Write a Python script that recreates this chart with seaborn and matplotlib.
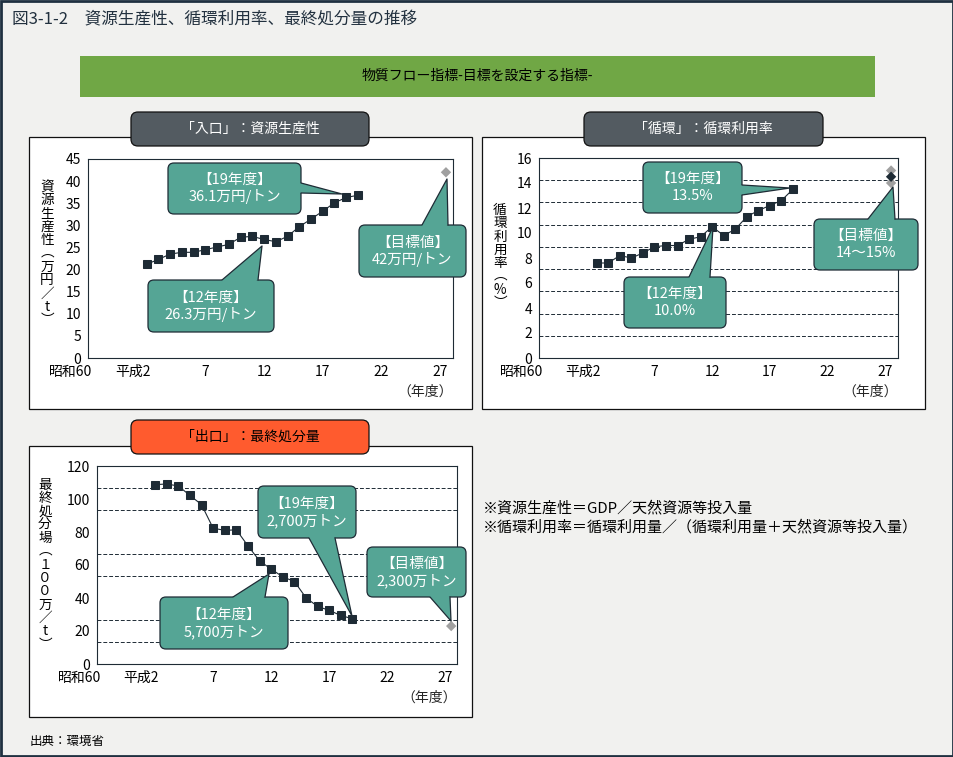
import numpy as np
import matplotlib
matplotlib.use('Agg')
import matplotlib.pyplot as plt
import matplotlib.transforms as mtransforms
from matplotlib.patches import FancyBboxPatch, Polygon, Rectangle
from matplotlib.ticker import FixedLocator
import seaborn as sns

# ---------------- Data ----------------

# 平成2年度〜
fiscal_years = [2, 3, 4, 5, 6, 7, 8, 9, 10, 11, 12, 13, 14, 15, 16, 17, 18, 19, 20]

# 資源生産性（万円/t）
productivity = [21.2, 22.3, 23.5, 23.9, 23.9, 24.5, 25.1, 25.7, 27.3, 27.5,
                26.8, 26.3, 27.5, 29.7, 31.4, 33.2, 35.1, 36.3, 36.8]
productivity_target = [42]

# 循環利用率（%）
cyclical_rate = [7.6, 7.6, 8.2, 8.0, 8.4, 8.9, 9.0, 9.0, 9.5, 9.7,
                 10.5, 9.8, 10.3, 11.3, 11.8, 12.2, 12.6, 13.5]
cyclical_target_range = [14, 15]
cyclical_target_mid = [14.5]

# 最終処分量（100万t）
disposal = [108.7, 109.1, 107.9, 102.2, 96.6, 82.3, 81.0, 81.3, 71.6, 62.5,
            57.5, 52.8, 50.0, 40.1, 34.9, 32.5, 29.4, 27.4]
disposal_target = [23]

target_year = [27.5]

tick_years = [-3, 2, 7, 12, 17, 22, 27]
tick_labels = ['昭和60', '平成2', '7', '12', '17', '22', '27']

# ---------------- Style ----------------

sns.set_theme(style='white')
plt.rcParams['font.family'] = ['Noto Sans CJK JP', 'DejaVu Sans']

DARK = '#1E2B35'
TEAL = '#55A595'
TAB_GRAY = '#535B61'
TAB_ORANGE = '#FF5B2E'
GREEN = '#70A745'
BG = '#F1F1EF'

W, H = 954, 757
fig = plt.figure(figsize=(W / 100, H / 100), dpi=100)
fig.patch.set_facecolor(BG)


def px_axes(l, t, r, b, z):
    ax = fig.add_axes([l / W, 1 - b / H, (r - l) / W, (b - t) / H], zorder=z)
    return ax


def overlay(z):
    ax = px_axes(0, 0, W, H, z)
    ax.set_xlim(0, W)
    ax.set_ylim(H, 0)
    ax.axis('off')
    return ax


bg = overlay(0)
top = overlay(5)

# outer frame
bg.add_patch(Rectangle((1, 1), W - 2, H - 2, fill=False, edgecolor='#1F3040', linewidth=2))

# title and banner
bg.text(12, 20, '図3-1-2　資源生産性、循環利用率、最終処分量の推移', fontsize=12,
        color='#22313F', va='center', ha='left')
bg.add_patch(Rectangle((80, 56), 795, 41, facecolor=GREEN, edgecolor='none'))
bg.text(477, 76, '物質フロー指標-目標を設定する指標-', fontsize=10, color='black',
        ha='center', va='center')

# panels and tabs
panels = [(29, 137, 472, 409), (482, 137, 925, 409), (29, 446, 472, 717)]
tabs = [((131, 112, 369, 146), '「入口」：資源生産性', TAB_GRAY, 'white'),
        ((584, 112, 823, 146), '「循環」：循環利用率', TAB_GRAY, 'white'),
        ((131, 420, 369, 454), '「出口」：最終処分量', TAB_ORANGE, 'black')]

for l, t, r, b in panels:
    bg.add_patch(Rectangle((l, t), r - l, b - t, facecolor='white',
                           edgecolor='#111111', linewidth=0.9))
for (l, t, r, b), label, fc, tc in tabs:
    bg.add_patch(FancyBboxPatch((l, t), r - l, b - t,
                                boxstyle='round,pad=0,rounding_size=7',
                                facecolor=fc, edgecolor='#111111', linewidth=0.9))
    bg.text((l + r) / 2, (t + b) / 2, label, fontsize=10, color=tc,
            ha='center', va='center')

# footnotes
bg.text(483, 508, '※資源生産性＝GDP／天然資源等投入量', fontsize=10.8,
        color='black', ha='left', va='center')
bg.text(483, 527, '※循環利用率＝循環利用量／（循環利用量＋天然資源等投入量）',
        fontsize=10.8, color='black', ha='left', va='center')
bg.text(30, 741, '出典：環境省', fontsize=9, color='black', ha='left', va='center')


def vertical_label(x, ytop, chars, step=13.3):
    for i, ch in enumerate(chars):
        bg.text(x, ytop + i * step, ch, fontsize=9.8, color='black',
                ha='center', va='center')


def style_axes(ax, ymax, ystep, xmax):
    ax.set_facecolor('white')
    ax.set_xlim(-3, xmax)
    ax.set_ylim(0, ymax)
    ax.set_xticks(tick_years)
    ax.set_xticklabels(tick_labels)
    ax.set_yticks(np.arange(0, ymax + ystep / 2, ystep))
    # the dashed grid is split in nine bands on every chart
    ax.yaxis.set_minor_locator(FixedLocator(np.linspace(0, ymax, 10)[1:-1]))
    ax.grid(False)
    ax.grid(which='minor', axis='y', color=DARK, linestyle=(0, (4, 2)), linewidth=0.7)
    ax.tick_params(which='both', length=0, labelsize=10, colors='black')
    ax.tick_params(axis='x', pad=5)
    ax.tick_params(axis='y', pad=5)
    for s in ax.spines.values():
        s.set_visible(True)
        s.set_color(DARK)
        s.set_linewidth(0.8)
    ax.set_xlabel('')
    ax.set_ylabel('')
    off = mtransforms.ScaledTranslation(0.04, 0, fig.dpi_scale_trans)
    for lbl in ax.get_xticklabels()[:2]:
        lbl.set_ha('right')
        lbl.set_transform(lbl.get_transform() + off)
    ax.annotate('（年度）', xy=(1, 0), xycoords='axes fraction', xytext=(0, -34),
                textcoords='offset pixels', ha='right', va='center', fontsize=10)


def draw_series(ax, x, y):
    sns.lineplot(x=x, y=y, ax=ax, color=DARK, linewidth=0.8, marker='s',
                 markersize=5.2, markeredgecolor=DARK, zorder=3)


def callout(box, base, tip, lines):
    l, t, r, b = box
    top.add_patch(FancyBboxPatch((l, t), r - l, b - t,
                                 boxstyle='round,pad=0,rounding_size=6',
                                 facecolor=TEAL, edgecolor=DARK, linewidth=0.9, zorder=1))
    cx, cy = (l + r) / 2, (t + b) / 2
    top.add_patch(Polygon([base[0], tip, base[1], (cx, cy)], closed=True,
                          facecolor=TEAL, edgecolor='none', zorder=2))
    top.plot([base[0][0], tip[0], base[1][0]], [base[0][1], tip[1], base[1][1]],
             color=DARK, linewidth=0.9, zorder=3)
    top.text(cx, cy - 8.5, lines[0], fontsize=10.5, color='white',
             ha='center', va='center', zorder=4)
    top.text(cx, cy + 8.5, lines[1], fontsize=10.5, color='white',
             ha='center', va='center', zorder=4)


# ---------------- 入口：資源生産性 ----------------

ax1 = px_axes(88, 159, 453, 358, 1)
draw_series(ax1, fiscal_years, productivity)
sns.scatterplot(x=target_year, y=productivity_target, ax=ax1, marker='D', s=28,
                color='#A0A0A0', edgecolor='none', zorder=4)
style_axes(ax1, 45, 5, 28.1)
vertical_label(47, 187, list('資源生産性') + ['︵', '万', '円', '／', 't', '︶'])

callout((168, 163, 301, 214), [(301, 183), (301, 193)], (342, 194),
        ['【19年度】', '36.1万円/トン'])
callout((148, 280, 274, 332), [(222, 280), (258, 280)], (262, 246),
        ['【12年度】', '26.3万円/トン'])
callout((359, 225, 466, 277), [(422, 225), (448, 225)], (447, 179),
        ['【目標値】', '42万円/トン'])

# ---------------- 循環：循環利用率 ----------------

ax2 = px_axes(539, 158, 898, 358, 1)
draw_series(ax2, fiscal_years[:len(cyclical_rate)], cyclical_rate)
sns.scatterplot(x=target_year * 2, y=cyclical_target_range, ax=ax2, marker='D',
                s=28, color='#A0A0A0', edgecolor='none', zorder=4)
sns.scatterplot(x=target_year, y=cyclical_target_mid, ax=ax2, marker='D',
                s=28, color=DARK, edgecolor='none', zorder=5)
style_axes(ax2, 16, 2, 28.1)
vertical_label(500, 210, list('循環利用率') + ['︵', '%', '︶'])

callout((643, 162, 742, 213), [(742, 185), (742, 195)], (790, 188),
        ['【19年度】', '13.5%'])
callout((624, 277, 726, 328), [(689, 277), (710, 277)], (713, 227),
        ['【12年度】', '10.0%'])
callout((814, 219, 918, 270), [(868, 219), (895, 219)], (893, 187),
        ['【目標値】', '14〜15%'])

# ---------------- 出口：最終処分量 ----------------

ax3 = px_axes(97, 466, 457, 664, 1)
draw_series(ax3, fiscal_years[:len(disposal)], disposal)
sns.scatterplot(x=target_year, y=disposal_target, ax=ax3, marker='D', s=28,
                color='#A0A0A0', edgecolor='none', zorder=4)
style_axes(ax3, 120, 20, 28.0)
vertical_label(45, 485, list('最終処分場') + ['︵', '１', '０', '０', '万', '／', 't', '︶'])

callout((258, 486, 356, 538), [(309, 538), (335, 538)], (352, 616),
        ['【19年度】', '2,700万トン'])
callout((160, 597, 288, 649), [(233, 597), (265, 597)], (269, 574),
        ['【12年度】', '5,700万トン'])
callout((367, 547, 466, 597), [(430, 597), (450, 597)], (451, 621),
        ['【目標値】', '2,300万トン'])

fig.savefig('out.png', dpi=100, facecolor=fig.get_facecolor())
